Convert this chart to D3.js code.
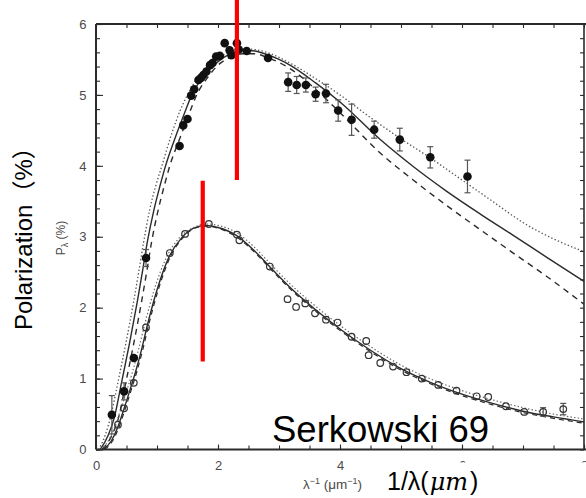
<!DOCTYPE html>
<html>
<head>
<meta charset="utf-8">
<script src="https://cdn.jsdelivr.net/npm/d3@7"></script>
<style>
  html, body { margin: 0; padding: 0; background: #fff; }
  svg { display: block; }
</style>
</head>
<body>
<svg id="chart" width="586" height="498"></svg>
<script>
// ---- Measured polarization, filled circles: [1/lambda, P, error] ----
const filledPoints = [
  [0.26, 0.49, 0.27], [0.46, 0.82, 0.12], [0.62, 1.29, 0], [0.82, 2.70, 0.12],
  [1.37, 4.28, 0], [1.43, 4.57, 0], [1.50, 4.66, 0], [1.56, 4.99, 0],
  [1.61, 5.08, 0], [1.68, 5.21, 0], [1.72, 5.24, 0], [1.76, 5.28, 0],
  [1.81, 5.33, 0], [1.87, 5.42, 0], [1.91, 5.45, 0], [1.97, 5.54, 0],
  [2.03, 5.55, 0], [2.11, 5.73, 0], [2.19, 5.63, 0], [2.22, 5.56, 0],
  [2.31, 5.73, 0], [2.34, 5.64, 0], [2.47, 5.62, 0], [2.82, 5.52, 0],
  [3.15, 5.18, 0.13], [3.29, 5.14, 0.12], [3.44, 5.14, 0.10], [3.60, 5.01, 0.10],
  [3.77, 5.02, 0.13], [3.97, 4.78, 0.15], [4.19, 4.65, 0.22], [4.56, 4.51, 0.12],
  [4.98, 4.37, 0.16], [5.48, 4.12, 0.15], [6.09, 3.85, 0.23]
];

// ---- Measured polarization, open circles: [1/lambda, P, error] ----
const openPoints = [
  [0.36, 0.35, 0], [0.46, 0.58, 0], [0.62, 0.94, 0], [0.82, 1.72, 0],
  [1.21, 2.77, 0], [1.46, 3.04, 0], [1.85, 3.18, 0], [2.31, 3.03, 0],
  [2.35, 2.95, 0], [2.85, 2.58, 0], [3.14, 2.12, 0], [3.28, 2.01, 0],
  [3.43, 2.06, 0], [3.59, 1.92, 0], [3.77, 1.83, 0], [3.96, 1.79, 0],
  [4.19, 1.59, 0], [4.43, 1.53, 0], [4.47, 1.33, 0], [4.66, 1.22, 0],
  [4.87, 1.17, 0], [5.09, 1.09, 0], [5.34, 1.00, 0], [5.61, 0.91, 0],
  [5.91, 0.83, 0], [6.24, 0.75, 0], [6.43, 0.74, 0], [6.72, 0.61, 0],
  [7.02, 0.53, 0], [7.33, 0.53, 0.06], [7.66, 0.57, 0.08]
];

// ---- Model curves for the upper star ----
const upperSolid = [
  [0.07, 0], [0.2, 0.2], [0.3, 0.45], [0.42, 0.95], [0.55, 1.5], [0.68, 2.1],
  [0.76, 2.5], [0.84, 2.92], [0.95, 3.38], [1.05, 3.72], [1.14, 4.0], [1.3, 4.4],
  [1.45, 4.74], [1.57, 5.0], [1.8, 5.3], [2.0, 5.47], [2.2, 5.58], [2.4, 5.63],
  [2.6, 5.62], [2.8, 5.57], [3.0, 5.5], [3.2, 5.41], [3.6, 5.17], [4.0, 4.9],
  [4.66, 4.37], [5.2, 3.99], [5.75, 3.64], [6.3, 3.32], [6.84, 3.02],
  [7.39, 2.71], [8.0, 2.37]
];
const upperDashed = [
  [0.1, 0], [0.26, 0.2], [0.37, 0.45], [0.49, 0.95], [0.62, 1.5], [0.75, 2.1],
  [0.83, 2.5], [0.91, 2.92], [1.02, 3.38], [1.12, 3.72], [1.21, 4.0], [1.38, 4.4],
  [1.53, 4.74], [1.64, 4.98], [1.85, 5.27], [2.0, 5.42], [2.2, 5.53], [2.4, 5.58],
  [2.6, 5.58], [2.8, 5.53], [3.2, 5.36], [3.6, 5.08], [4.0, 4.75], [4.66, 4.18],
  [5.2, 3.8], [5.75, 3.44], [6.3, 3.1], [6.84, 2.77], [7.39, 2.44], [8.0, 2.05]
];
const upperDotted = [
  [0.04, 0], [0.15, 0.2], [0.25, 0.5], [0.36, 0.95], [0.49, 1.5], [0.62, 2.1],
  [0.7, 2.5], [0.78, 2.92], [0.88, 3.38], [0.98, 3.72], [1.08, 4.0], [1.24, 4.45],
  [1.38, 4.78], [1.51, 5.02], [1.75, 5.33], [2.0, 5.52], [2.2, 5.6], [2.4, 5.65],
  [2.6, 5.64], [2.8, 5.6], [3.2, 5.44], [3.6, 5.23], [4.0, 5.0], [4.5, 4.68],
  [5.0, 4.38], [5.5, 4.1], [6.0, 3.8], [6.5, 3.5], [7.0, 3.2], [7.5, 2.97], [8.0, 2.79]
];

// ---- Model curves for the lower star ----
const lowerSolid = [
  [0.12, 0], [0.25, 0.12], [0.35, 0.3], [0.45, 0.55], [0.55, 0.82], [0.65, 1.1],
  [0.75, 1.42], [0.85, 1.78], [1.0, 2.25], [1.2, 2.72], [1.4, 2.98], [1.6, 3.12],
  [1.8, 3.16], [2.0, 3.13], [2.3, 3.02], [2.6, 2.8], [2.9, 2.53], [3.2, 2.27],
  [3.6, 1.97], [4.0, 1.7], [4.5, 1.4], [5.0, 1.14], [5.5, 0.94], [6.0, 0.78],
  [6.5, 0.65], [7.0, 0.54], [7.5, 0.46], [8.0, 0.39]
];
const lowerDashed = [
  [0.14, 0], [0.27, 0.12], [0.37, 0.3], [0.47, 0.55], [0.57, 0.82], [0.67, 1.1],
  [0.77, 1.42], [0.87, 1.78], [1.02, 2.25], [1.22, 2.72], [1.42, 2.98], [1.62, 3.12],
  [1.82, 3.15], [2.0, 3.12], [2.3, 3.0], [2.6, 2.78], [2.9, 2.51], [3.2, 2.25],
  [3.6, 1.95], [4.0, 1.68], [4.5, 1.38], [5.0, 1.12], [5.5, 0.92], [6.0, 0.76],
  [6.5, 0.63], [7.0, 0.52], [7.5, 0.44], [8.0, 0.37]
];
const lowerDotted = [
  [0.08, 0], [0.2, 0.12], [0.3, 0.3], [0.4, 0.55], [0.5, 0.82], [0.6, 1.1],
  [0.7, 1.42], [0.8, 1.77], [0.95, 2.24], [1.15, 2.7], [1.35, 2.97], [1.6, 3.13],
  [1.8, 3.18], [2.0, 3.16], [2.3, 3.06], [2.6, 2.85], [2.9, 2.58], [3.2, 2.32],
  [3.6, 2.02], [4.0, 1.75], [4.5, 1.45], [5.0, 1.19], [5.5, 0.99], [6.0, 0.83],
  [6.5, 0.7], [7.0, 0.59], [7.5, 0.5], [8.0, 0.43]
];

// ---- Wavelength-of-maximum markers: [1/lambda, P from, P to] ----
const peakMarkers = [
  [2.31, 3.8, 6.4],
  [1.75, 1.24, 3.79]
];

// ---- Axis ticks ----
const xTickValues = [0, 2, 4, 6, 8];
const xTickLabels = ["0", "2", "4", "6", "8"];
const yTickValues = [0, 1, 2, 3, 4, 5, 6];
const yTickLabels = ["0", "1", "2", "3", "4", "5", "6"];

// ---- Layout ----
const plot = { left: 96, right: 584, top: 24, bottom: 449.5 };
const svg = d3.select("#chart");

const x = d3.scaleLinear().domain([0, 8]).range([plot.left, plot.right]);
const y = d3.scaleLinear().domain([0, 6]).range([plot.bottom, plot.top]);

const ink = "#2b2b2b";
const labelInk = "#4a4a4a";
const tickFont = "Liberation Sans, Arial, sans-serif";

const defs = svg.append("defs");
defs.append("clipPath").attr("id", "plotClip")
  .append("rect").attr("x", plot.left).attr("y", 0)
  .attr("width", plot.right - plot.left).attr("height", plot.bottom);
// The caption box in the lower right hides everything under it
defs.append("clipPath").attr("id", "captionClip")
  .append("path").attr("d", "M0,0H586V462.5H378V498H0Z");

// Minor ticks (inward on all four sides)
const xMinor = d3.range(0, 8.01, 0.5);
const yMinor = d3.range(0, 6.01, 0.2);

function styleAxis(g) {
  g.select(".domain").remove();
  g.selectAll(".tick line").attr("stroke", ink).attr("stroke-width", 1.1);
  g.selectAll(".tick text").attr("fill", labelInk)
    .style("font-family", tickFont).style("font-size", "13px");
}

svg.append("g").attr("transform", `translate(${plot.left},0)`)
  .call(d3.axisLeft(y).tickValues(yMinor).tickSize(-4).tickFormat(""))
  .call(styleAxis);
svg.append("g").attr("transform", `translate(${plot.left},0)`)
  .call(d3.axisLeft(y).tickValues(yTickValues).tickSize(-7).tickPadding(9.5)
    .tickFormat((d, i) => yTickLabels[i]))
  .call(styleAxis);
svg.append("g").attr("transform", `translate(${plot.right},0)`)
  .call(d3.axisRight(y).tickValues(yMinor).tickSize(-4).tickFormat(""))
  .call(styleAxis);

svg.append("g").attr("transform", `translate(0,${plot.bottom})`)
  .call(d3.axisBottom(x).tickValues(xMinor).tickSize(-4).tickFormat(""))
  .call(styleAxis);
svg.append("g").attr("clip-path", "url(#captionClip)")
  .append("g").attr("transform", `translate(0,${plot.bottom})`)
  .call(d3.axisBottom(x).tickValues(xTickValues).tickSize(-5).tickPadding(11.5)
    .tickFormat((d, i) => xTickLabels[i]))
  .call(styleAxis);
svg.append("g").attr("transform", `translate(0,${plot.top})`)
  .call(d3.axisTop(x).tickValues(xMinor).tickSize(-4).tickFormat(""))
  .call(styleAxis);

// Frame
svg.append("line").attr("x1", plot.left).attr("x2", plot.left)
  .attr("y1", plot.top).attr("y2", plot.bottom).attr("stroke", ink).attr("stroke-width", 2);
svg.append("line").attr("x1", plot.left).attr("x2", plot.right + 2)
  .attr("y1", plot.bottom).attr("y2", plot.bottom).attr("stroke", ink).attr("stroke-width", 2);
svg.append("line").attr("x1", plot.left).attr("x2", 586)
  .attr("y1", plot.top).attr("y2", plot.top).attr("stroke", ink).attr("stroke-width", 2);
svg.append("line").attr("x1", plot.right).attr("x2", plot.right)
  .attr("y1", plot.top).attr("y2", plot.bottom).attr("stroke", ink).attr("stroke-width", 1.6);

// Model curves
const line = d3.line().x(d => x(d[0])).y(d => y(d[1])).curve(d3.curveMonotoneX);
const curves = svg.append("g").attr("clip-path", "url(#plotClip)").attr("fill", "none");
const curveStyles = [
  [upperSolid, null, ink, 1.4],
  [upperDashed, "6,5", ink, 1.4],
  [upperDotted, "1.4,2.2", "#555", 1.3],
  [lowerSolid, null, ink, 1.4],
  [lowerDashed, "5,4", ink, 1.2],
  [lowerDotted, "1.4,2.2", "#666", 1.2]
];
curveStyles.forEach(([data, dash, color, w]) => {
  curves.append("path").datum(data).attr("d", line)
    .attr("stroke", color).attr("stroke-width", w)
    .attr("stroke-dasharray", dash);
});

// Error bars
function errorBars(data) {
  const g = svg.append("g").attr("stroke", "#555").attr("stroke-width", 1.2);
  data.filter(d => d[2] > 0).forEach(d => {
    const cx = x(d[0]), y0 = y(d[1] - d[2]), y1 = y(d[1] + d[2]);
    g.append("line").attr("x1", cx).attr("x2", cx).attr("y1", y0).attr("y2", y1);
    g.append("line").attr("x1", cx - 3).attr("x2", cx + 3).attr("y1", y0).attr("y2", y0);
    g.append("line").attr("x1", cx - 3).attr("x2", cx + 3).attr("y1", y1).attr("y2", y1);
  });
}
errorBars(filledPoints);
errorBars(openPoints);

// Markers
svg.append("g").selectAll("circle").data(openPoints).join("circle")
  .attr("cx", d => x(d[0])).attr("cy", d => y(d[1])).attr("r", 3.3)
  .attr("fill", "none").attr("stroke", "#333").attr("stroke-width", 1.2);
svg.append("g").selectAll("circle").data(filledPoints).join("circle")
  .attr("cx", d => x(d[0])).attr("cy", d => y(d[1])).attr("r", 4.3)
  .attr("fill", "#111");

// Peak wavelength markers
svg.append("g").selectAll("line").data(peakMarkers).join("line")
  .attr("x1", d => x(d[0])).attr("x2", d => x(d[0]))
  .attr("y1", d => y(d[1])).attr("y2", d => y(d[2]))
  .attr("stroke", "#ff0000").attr("stroke-width", 4.2);

// Axis titles
svg.append("text")
  .attr("transform", "translate(65,238) rotate(-90)")
  .attr("text-anchor", "middle").attr("fill", labelInk)
  .style("font-family", tickFont).style("font-size", "12px")
  .call(t => {
    t.append("tspan").text("P");
    t.append("tspan").attr("dy", 3).style("font-size", "9px").text("λ");
    t.append("tspan").attr("dy", -3).text(" (%)");
  });

svg.append("g").attr("clip-path", "url(#captionClip)")
  .append("text")
  .attr("x", 303).attr("y", 489).attr("fill", labelInk)
  .style("font-family", tickFont).style("font-size", "13.5px")
  .call(t => {
    t.append("tspan").text("λ");
    t.append("tspan").attr("dy", -5).style("font-size", "9px").text("−1");
    t.append("tspan").attr("dy", 5).text(" (μm");
    t.append("tspan").attr("dy", -5).style("font-size", "9px").text("−1");
    t.append("tspan").attr("dy", 5).text(")");
  });

// Overlay annotations
svg.append("text")
  .attr("x", 387).attr("y", 490).attr("fill", "#000")
  .style("font-family", "Liberation Sans, Arial, sans-serif").style("font-size", "25px")
  .call(t => {
    t.append("tspan").text("1/λ(");
    t.append("tspan").style("font-family", "DejaVu Serif, Liberation Serif, serif")
      .style("font-style", "italic").style("font-size", "24px").attr("dx", 1).text("μm");
    t.append("tspan").attr("dx", 2).text(")");
  });

svg.append("text")
  .attr("transform", "translate(32,330) rotate(-90)")
  .attr("fill", "#000")
  .style("font-family", "Liberation Sans, Arial, 'Noto Sans CJK JP', sans-serif")
  .style("font-size", "24px")
  .text("Polarization（%）");

svg.append("text")
  .attr("x", 272).attr("y", 442).attr("fill", "#000")
  .style("font-family", "Liberation Sans, Arial, sans-serif").style("font-size", "36.5px")
  .text("Serkowski 69");
</script>
</body>
</html>
